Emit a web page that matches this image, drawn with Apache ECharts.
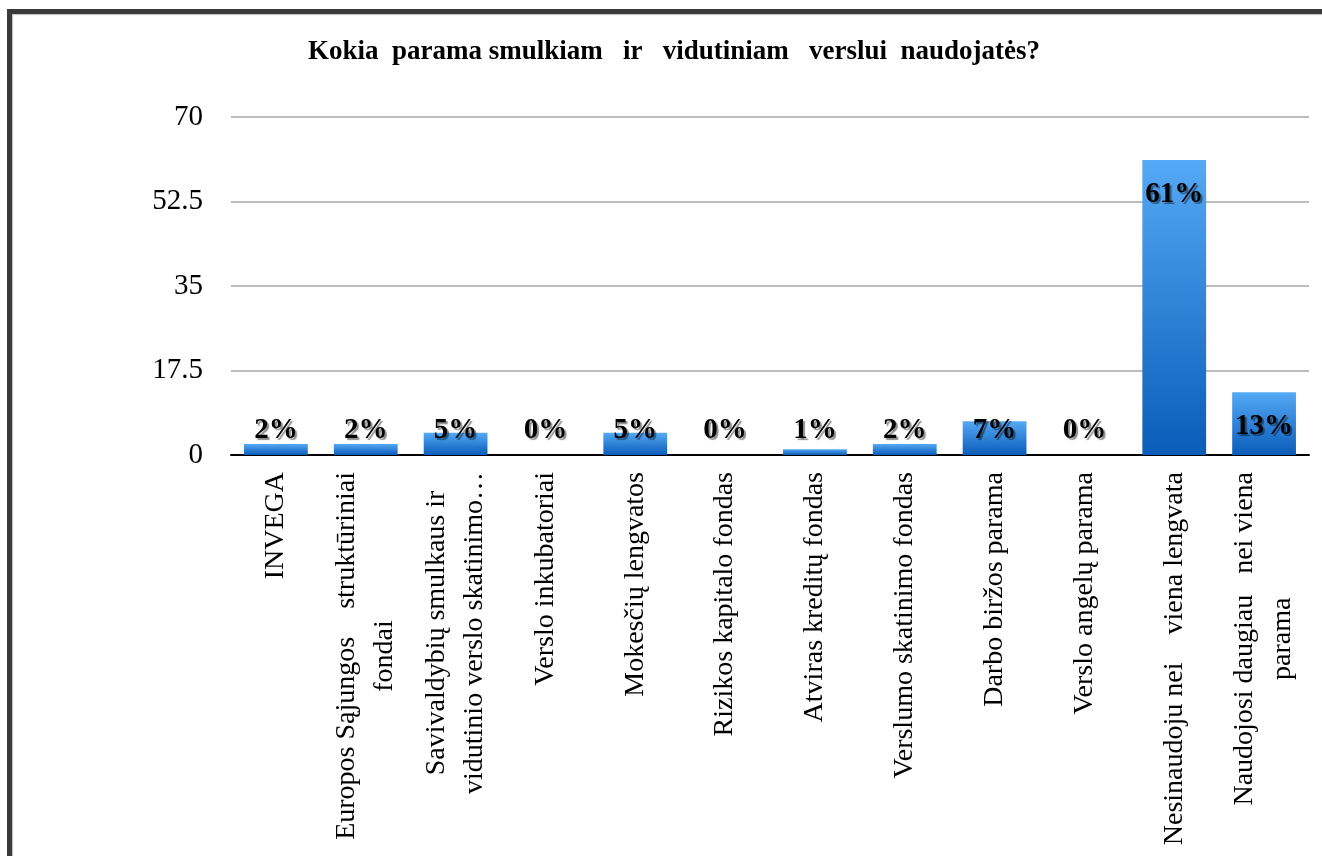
<!DOCTYPE html>
<html>
<head>
<meta charset="utf-8">
<script src="https://cdn.jsdelivr.net/npm/echarts@6/dist/echarts.min.js"></script>
<style>
html,body{margin:0;padding:0;background:#fff;}
#chart{width:1322px;height:856px;}
</style>
</head>
<body>
<div id="chart"></div>
<script>
const titleText = 'Kokia  parama smulkiam   ir   vidutiniam   verslui  naudojatės?';
const categories = [
  'INVEGA',
  'Europos Sąjungos    struktūriniai\nfondai',
  'Savivaldybių smulkaus ir\nvidutinio verslo skatinimo…',
  'Verslo inkubatoriai',
  'Mokesčių lengvatos',
  'Rizikos kapitalo fondas',
  'Atviras kreditų fondas',
  'Verslumo skatinimo fondas',
  'Darbo biržos parama',
  'Verslo angelų parama',
  'Nesinaudoju nei    viena lengvata',
  'Naudojosi daugiau   nei viena\nparama'
];
const values = [2.3, 2.3, 4.6, 0, 4.6, 0, 1.2, 2.3, 7.0, 0, 61.1, 13.0];
const yTicks = [0, 17.5, 35, 52.5, 70];

const serif = '"Liberation Serif", "Times New Roman", serif';
const chart = echarts.init(document.getElementById('chart'));

const labelBase = {
  show: true,
  fontFamily: serif,
  fontWeight: 'bold',
  fontSize: 29,
  color: '#000',
  textShadowColor: 'rgba(0,0,0,0.45)',
  textShadowOffsetX: 2,
  textShadowOffsetY: 2,
  textShadowBlur: 1,
  formatter: p => Math.round(p.value) + '%'
};

const option = {
  backgroundColor: '#fff',
  animation: false,
  title: {
    text: titleText,
    left: 669,
    textAlign: 'center',
    top: 34,
    textStyle: { fontFamily: serif, fontWeight: 'bold', fontSize: 27, color: '#000' }
  },
  graphic: [{
    type: 'rect',
    shape: { x: 9.5, y: 11.5, width: 2000, height: 2000 },
    style: { fill: 'none', stroke: '#3a3a3a', lineWidth: 5, shadowColor: 'rgba(0,0,0,0.25)', shadowOffsetX: 1, shadowOffsetY: 1, shadowBlur: 1 },
    silent: true
  }],
  grid: { left: 231, right: 13, top: 117, bottom: 401, containLabel: false },
  xAxis: {
    type: 'category',
    data: categories,
    axisLine: { lineStyle: { color: '#000', width: 2 } },
    axisTick: { show: false },
    axisLabel: {
      rotate: 90,
      interval: 0,
      margin: 17,
      formatter: v => v.split('\n').map(s => '{c|' + s + '}').join('\n'),
      rich: {
        c: { align: 'center', fontFamily: serif, fontSize: 28, lineHeight: 38, color: '#000' }
      }
    }
  },
  yAxis: {
    type: 'value',
    min: yTicks[0],
    max: yTicks[yTicks.length - 1],
    interval: 17.5,
    axisLine: { show: false },
    axisTick: { show: false },
    axisLabel: { fontFamily: serif, fontSize: 29, color: '#000', margin: 28 },
    splitLine: { lineStyle: { color: '#a6a6a6', width: 1.5 } }
  },
  series: [{
    type: 'bar',
    barWidth: '71%',
    data: values.map(v => ({
      value: v,
      label: Object.assign({}, labelBase, v >= 10
        ? { position: 'insideTop', distance: 20 }
        : { position: 'insideBottom', distance: 10 })
    })),
    itemStyle: {
      color: new echarts.graphic.LinearGradient(0, 0, 0, 1, [
        { offset: 0, color: '#55a9f5' },
        { offset: 1, color: '#0a5cb8' }
      ])
    }
  }]
};
chart.setOption(option);
</script>
</body>
</html>
